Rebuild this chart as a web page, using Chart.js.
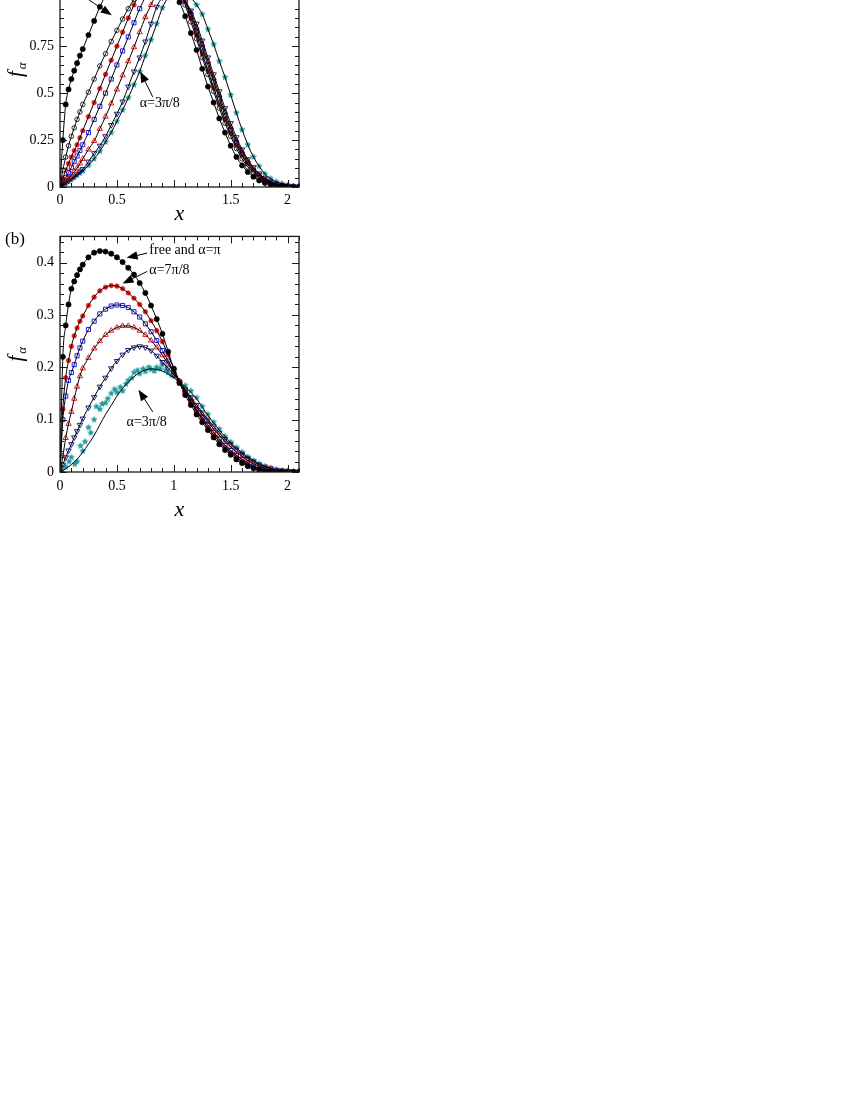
<!DOCTYPE html>
<html>
<head>
<meta charset="utf-8">
<script src="https://cdn.jsdelivr.net/npm/chart.js@4.4.1/dist/chart.umd.min.js"></script>
<style>
html,body{margin:0;padding:0;background:#fff;width:850px;height:1100px;overflow:hidden;position:relative;}
#wa{position:absolute;left:0;top:-62px;width:310px;height:285px;}
#wb{position:absolute;left:0;top:222px;width:310px;height:300px;}
canvas{display:block;}
</style>
</head>
<body>
<div id="wa"><canvas id="ca" width="310" height="285"></canvas></div>
<div id="wb"><canvas id="cb" width="310" height="300"></canvas></div>
<script>
// ---------------- data ----------------
const xGrid = [0,0.025,0.05,0.075,0.1,0.125,0.15,0.175,0.2,
  0.25,0.3,0.35,0.4,0.45,0.5,0.55,0.6,0.65,0.7,0.75,0.8,0.85,0.9,0.95,1,
  1.05,1.1,1.15,1.2,1.25,1.3,1.35,1.4,1.45,1.5,1.55,1.6,1.65,1.7,1.75,1.8,1.85,1.9,1.95,2,2.05,2.1];

// panel (a)
const aFree = [0,0.25,0.44,0.52,0.575,0.62,0.66,0.7,0.735,
  0.81,0.885,0.96,1.02,1.07,1.11,1.14,1.16,1.17,1.17,1.16,1.15,1.13,1.1,1.075,1.04,
  0.985,0.91,0.82,0.73,0.63,0.535,0.45,0.365,0.29,0.22,0.16,0.115,0.08,0.055,0.035,0.022,0.012,0.006,0.003,0.001,0,0];
const aPi = [0,0.09,0.16,0.22,0.27,0.315,0.36,0.4,0.44,
  0.505,0.575,0.645,0.71,0.775,0.835,0.895,0.95,1.0,1.04,1.08,1.11,1.13,1.14,1.13,1.1,
  1.05,0.97,0.88,0.79,0.69,0.6,0.51,0.42,0.34,0.27,0.205,0.15,0.107,0.075,0.05,0.032,0.019,0.011,0.006,0.003,0.001,0];
const a78 = [0,0.045,0.09,0.125,0.16,0.193,0.225,0.262,0.3,
  0.375,0.45,0.525,0.6,0.675,0.75,0.825,0.9,0.97,1.03,1.07,1.1,1.12,1.12,1.11,1.08,
  1.04,0.98,0.9,0.81,0.71,0.62,0.53,0.44,0.36,0.285,0.22,0.165,0.118,0.082,0.055,0.035,0.021,0.012,0.007,0.004,0.002,0.001];
const a34 = [0,0.025,0.05,0.077,0.105,0.135,0.165,0.195,0.225,
  0.29,0.36,0.43,0.5,0.575,0.65,0.725,0.8,0.875,0.95,1.01,1.05,1.08,1.09,1.09,1.07,
  1.04,0.99,0.92,0.83,0.74,0.65,0.56,0.47,0.38,0.305,0.235,0.175,0.127,0.088,0.06,0.038,0.023,0.013,0.008,0.004,0.002,0.001];
const a58 = [0,0.015,0.03,0.047,0.065,0.083,0.1,0.125,0.15,
  0.2,0.245,0.31,0.375,0.445,0.52,0.595,0.67,0.745,0.825,0.905,0.97,1.03,1.06,1.07,1.06,
  1.03,0.99,0.93,0.85,0.76,0.67,0.58,0.49,0.4,0.32,0.25,0.19,0.14,0.098,0.066,0.043,0.027,0.016,0.009,0.005,0.003,0.001];
const a12 = [0,0.011,0.022,0.033,0.045,0.056,0.068,0.081,0.095,
  0.135,0.18,0.22,0.27,0.33,0.39,0.455,0.535,0.615,0.69,0.775,0.87,0.96,1.01,1.03,1.035,
  1.02,0.99,0.94,0.87,0.78,0.69,0.6,0.51,0.42,0.34,0.265,0.2,0.148,0.105,0.072,0.047,0.03,0.018,0.01,0.006,0.003,0.001];
const a38 = [0,0.008,0.018,0.03,0.04,0.052,0.063,0.074,0.085,
  0.115,0.15,0.19,0.24,0.29,0.35,0.41,0.475,0.545,0.615,0.7,0.785,0.87,0.955,1.01,1.04,
  1.05,1.04,1.01,0.97,0.92,0.84,0.76,0.67,0.585,0.49,0.395,0.305,0.225,0.16,0.11,0.07,0.045,0.028,0.018,0.01,0.005,0.002];

// panel (b)
const bFree = [0,0.22,0.28,0.32,0.35,0.364,0.376,0.387,0.396,
  0.41,0.419,0.422,0.421,0.417,0.41,0.401,0.39,0.377,0.361,0.342,0.318,0.292,0.264,0.23,0.197,
  0.17,0.147,0.128,0.11,0.095,0.08,0.066,0.053,0.042,0.033,0.024,0.017,0.011,0.007,0.004,0.002,0.001,0,0,0,0,0];
const b78 = [0,0.12,0.18,0.213,0.24,0.26,0.275,0.288,0.298,
  0.318,0.334,0.346,0.353,0.356,0.355,0.35,0.342,0.332,0.32,0.306,0.289,0.27,0.249,0.224,0.198,
  0.174,0.152,0.133,0.116,0.1,0.085,0.071,0.058,0.047,0.037,0.028,0.02,0.014,0.009,0.006,0.003,0.002,0.001,0,0,0,0];
const b34 = [0,0.1,0.145,0.175,0.19,0.205,0.222,0.237,0.25,
  0.272,0.288,0.302,0.311,0.317,0.319,0.318,0.314,0.306,0.296,0.283,0.268,0.251,0.232,0.212,0.192,
  0.172,0.153,0.135,0.119,0.104,0.09,0.076,0.063,0.051,0.041,0.032,0.024,0.017,0.011,0.007,0.004,0.002,0.001,0.001,0,0,0];
const b58 = [0,0.03,0.065,0.092,0.115,0.14,0.163,0.183,0.198,
  0.218,0.236,0.25,0.262,0.27,0.276,0.279,0.279,0.276,0.27,0.262,0.251,0.238,0.223,0.207,0.19,
  0.173,0.156,0.14,0.124,0.11,0.096,0.082,0.07,0.058,0.048,0.038,0.03,0.022,0.016,0.011,0.007,0.005,0.003,0.002,0.001,0,0];
const b12 = [0,0.014,0.028,0.041,0.053,0.066,0.078,0.09,0.102,
  0.123,0.143,0.163,0.18,0.198,0.212,0.224,0.233,0.238,0.24,0.238,0.232,0.222,0.21,0.198,0.186,
  0.172,0.158,0.143,0.128,0.114,0.1,0.087,0.075,0.063,0.053,0.043,0.034,0.026,0.02,0.014,0.01,0.007,0.004,0.003,0.002,0.001,0];
const b38 = [0,0.003,0.006,0.01,0.014,0.019,0.024,0.031,0.038,
  0.053,0.07,0.09,0.11,0.127,0.145,0.16,0.172,0.182,0.19,0.195,0.197,0.196,0.193,0.187,0.18,
  0.172,0.163,0.152,0.14,0.124,0.108,0.094,0.08,0.068,0.056,0.046,0.037,0.029,0.022,0.016,0.011,0.007,0.004,0.003,0.002,0.001,0.001];
// simulation points of alpha=3pi/8 in panel (b) (scattered)
const tealBx = [0.02,0.05,0.08,0.1,0.13,0.15,0.18,0.2,0.22,0.25,0.27,0.3,0.32,0.35,0.37,0.4,0.42,0.45,0.48,0.5,
  0.53,0.55,0.58,0.6,0.63,0.65,0.68,0.7,0.73,0.75,0.78,0.8,0.83,0.85,0.88,0.9,0.93,0.95,0.98,1.0,
  1.05,1.1,1.15,1.2,1.25,1.3,1.35,1.4,1.45,1.5,1.55,1.6,1.65,1.7,1.75,1.8,1.85,1.9,1.95,2.0,2.05,2.1];
const tealBy = [0.005,0.01,0.02,0.028,0.015,0.02,0.05,0.04,0.058,0.085,0.075,0.1,0.125,0.12,0.13,0.132,0.14,0.15,0.158,0.152,
  0.162,0.155,0.168,0.175,0.18,0.19,0.194,0.188,0.197,0.192,0.2,0.196,0.193,0.2,0.197,0.205,0.195,0.19,0.185,0.183,
  0.17,0.165,0.155,0.142,0.125,0.11,0.095,0.082,0.068,0.057,0.047,0.038,0.029,0.022,0.016,0.011,0.008,0.005,0.003,0.002,0.001,0.001];

const xTicks = [0,0.5,1,1.5,2];
const yTicksA = [0,0.25,0.5,0.75,1,1.25];
const yTicksB = [0,0.1,0.2,0.3,0.4];
const xTickLabelsA = ['0','0.5','','1.5','2'];
const xTickLabelsB = ['0','0.5','1','1.5','2'];
const yTickLabelsA = ['0','0.25','0.5','0.75','',''];
const yTickLabelsB = ['0','0.1','0.2','0.3','0.4'];

// ---------------- styling ----------------
const SERIF = '"Liberation Serif", "Times New Roman", serif';
const RED = '#ec1a1a', BLUE = '#1c1ced', NAVY = '#1f1f8a', TEAL = '#219a9a';

function makeStar(color, r){
  const s = Math.ceil(r*2+2), c = document.createElement('canvas');
  c.width = s; c.height = s;
  const g = c.getContext('2d');
  g.fillStyle = color; g.beginPath();
  for(let k=0;k<10;k++){
    const ang = -Math.PI/2 + k*Math.PI/5, rr = (k%2) ? r*0.45 : r;
    g.lineTo(s/2 + rr*Math.cos(ang), s/2 + rr*Math.sin(ang));
  }
  g.closePath(); g.fill();
  return c;
}
const star = makeStar(TEAL, 3.8);

const mk = {
  free:{pointStyle:'circle',pointRadius:2.6,pointBackgroundColor:'#000',pointBorderColor:'#000',pointBorderWidth:0.6},
  pi:{pointStyle:'circle',pointRadius:2.3,pointBackgroundColor:'#fff',pointBorderColor:'#000',pointBorderWidth:0.8},
  r78:{pointStyle:'circle',pointRadius:2.3,pointBackgroundColor:RED,pointBorderColor:RED,pointBorderWidth:0.6},
  b34:{pointStyle:'rect',pointRadius:2.9,pointBackgroundColor:'rgba(0,0,0,0)',pointBorderColor:BLUE,pointBorderWidth:1},
  r58:{pointStyle:'triangle',pointRadius:3.1,pointBackgroundColor:'rgba(0,0,0,0)',pointBorderColor:RED,pointBorderWidth:1},
  n12:{pointStyle:'triangle',pointRotation:180,pointRadius:3.1,pointBackgroundColor:'rgba(0,0,0,0)',pointBorderColor:NAVY,pointBorderWidth:1},
  t38:{pointStyle:star,pointRadius:4}
};

function pts(ys, xs){ const X = xs || xGrid; return ys.map((v,i)=>({x:X[i], y:v})); }
function markers(label, ys, st, xs, order){
  return Object.assign({type:'line', label, data:pts(ys,xs), showLine:false, order:order, clip:0,
    borderColor:'rgba(0,0,0,0)'}, st);
}
function theory(ys){
  return {type:'line', label:'theory', data:pts(ys), showLine:true, pointRadius:0, borderColor:'#000',
    borderWidth:1, cubicInterpolationMode:'monotone', fill:false, order:0, clip:0};
}

// ---------------- plugins ----------------
function isMajor(v, step){ const q = v/step; return Math.abs(q - Math.round(q)) < 1e-6; }
const frameTicks = {
  id:'frameTicks',
  afterDraw(chart, args, o){
    const {ctx, chartArea:a} = chart, x = chart.scales.x, y = chart.scales.y;
    ctx.save();
    ctx.strokeStyle = '#1a1a1a'; ctx.lineWidth = 1;
    ctx.beginPath();
    for(let i=0;;i++){
      const v = i*o.xMinor; if(v > x.max + 1e-9) break;
      const p = Math.round(x.getPixelForValue(v)) + 0.5, L = isMajor(v,o.xMajor) ? o.major : o.minor;
      ctx.moveTo(p, a.bottom); ctx.lineTo(p, a.bottom - L);
      ctx.moveTo(p, a.top); ctx.lineTo(p, a.top + L);
    }
    for(let i=0;;i++){
      const v = i*o.yMinor; if(v > y.max + 1e-9) break;
      const p = Math.round(y.getPixelForValue(v)) + 0.5, L = isMajor(v,o.yMajor) ? o.major : o.minor;
      ctx.moveTo(a.left, p); ctx.lineTo(a.left + L, p);
      ctx.moveTo(a.right, p); ctx.lineTo(a.right - L, p);
    }
    ctx.stroke();
    ctx.lineWidth = 1.3;
    ctx.strokeRect(a.left, a.top, a.right - a.left, a.bottom - a.top);
    ctx.restore();
  }
};

function drawArrow(ctx, x1, y1, x2, y2){
  const ang = Math.atan2(y2-y1, x2-x1), L = 11, W = 4.2;
  ctx.beginPath(); ctx.moveTo(x1,y1);
  ctx.lineTo(x2 - Math.cos(ang)*L*0.8, y2 - Math.sin(ang)*L*0.8); ctx.stroke();
  ctx.beginPath(); ctx.moveTo(x2,y2);
  ctx.lineTo(x2 - Math.cos(ang)*L - Math.sin(ang)*W, y2 - Math.sin(ang)*L + Math.cos(ang)*W);
  ctx.lineTo(x2 - Math.cos(ang)*L + Math.sin(ang)*W, y2 - Math.sin(ang)*L - Math.cos(ang)*W);
  ctx.closePath(); ctx.fill();
}

const deco = {
  id:'deco',
  afterDraw(chart, args, o){
    const {ctx, chartArea:a} = chart, x = chart.scales.x, y = chart.scales.y;
    ctx.save();
    ctx.fillStyle = '#000'; ctx.strokeStyle = '#000'; ctx.lineWidth = 1;
    // x title
    ctx.font = 'italic 22px ' + SERIF; ctx.textAlign = 'center'; ctx.textBaseline = 'alphabetic';
    ctx.fillText('x', (a.left + a.right)/2, a.bottom + o.xTitleDy);
    // y title f_alpha
    ctx.save();
    ctx.translate(a.left - 38, (a.top + a.bottom)/2);
    ctx.rotate(-Math.PI/2);
    ctx.textAlign = 'left';
    ctx.font = 'italic 21px ' + SERIF; const wf = ctx.measureText('f').width;
    ctx.font = 'italic 13px ' + SERIF; const wa = ctx.measureText('α').width;
    const x0 = -(wf + wa + 2)/2;
    ctx.font = 'italic 21px ' + SERIF; ctx.fillText('f', x0, 0);
    ctx.font = 'italic 13px ' + SERIF; ctx.fillText('α', x0 + wf + 2, 4);
    ctx.restore();
    // panel label
    ctx.font = '17px ' + SERIF; ctx.textAlign = 'center'; ctx.textBaseline = 'middle';
    ctx.fillText(o.panel, a.left - 45, a.top + 3);
    // notes
    ctx.font = '14px ' + SERIF; ctx.textAlign = 'left'; ctx.textBaseline = 'middle';
    for(const n of o.notes) ctx.fillText(n.text, x.getPixelForValue(n.x), y.getPixelForValue(n.y));
    for(const r of o.arrows) drawArrow(ctx, x.getPixelForValue(r.x1), y.getPixelForValue(r.y1),
                                            x.getPixelForValue(r.x2), y.getPixelForValue(r.y2));
    ctx.restore();
  }
};

function buildChart(id, datasets, yMax, yTicks, yLabels, xLabels, fitH, tickPadX, plugOpts, frameOpts){
  return new Chart(document.getElementById(id), {
    type:'line',
    data:{datasets},
    options:{
      responsive:false, animation:false, devicePixelRatio:1, events:[],
      layout:{padding:{top:10,right:11,bottom:0,left:0}},
      plugins:{legend:{display:false}, tooltip:{enabled:false}, deco:plugOpts, frameTicks:frameOpts},
      scales:{
        x:{type:'linear', min:0, max:2.1,
           afterFit(s){ s.height = fitH; },
           afterBuildTicks(s){ s.ticks = xTicks.map(v=>({value:v})); },
           ticks:{autoSkip:false, maxRotation:0, padding:tickPadX, color:'#000',
                  font:{family:SERIF, size:14},
                  callback:(v)=>{ const i = xTicks.indexOf(v); return i<0 ? '' : xLabels[i]; }},
           grid:{display:false, drawTicks:false}, border:{display:false}},
        y:{type:'linear', min:0, max:yMax,
           afterFit(s){ s.width = 60; },
           afterBuildTicks(s){ s.ticks = yTicks.map(v=>({value:v})); },
           ticks:{autoSkip:false, padding:6, color:'#000', font:{family:SERIF, size:14},
                  callback:(v)=>{ const i = yTicks.indexOf(v); return i<0 ? '' : yLabels[i]; }},
           grid:{display:false, drawTicks:false}, border:{display:false}}
      }
    },
    plugins:[frameTicks, deco]
  });
}

// panel (a)
buildChart('ca', [
  theory(aFree), theory(aPi), theory(a78), theory(a34), theory(a58), theory(a12), theory(a38),
  markers('free', aFree, mk.free, null, 1),
  markers('α=π', aPi, mk.pi, null, 1),
  markers('α=7π/8', a78, mk.r78, null, 1),
  markers('α=3π/4', a34, mk.b34, null, 1),
  markers('α=5π/8', a58, mk.r58, null, 1),
  markers('α=π/2', a12, mk.n12, null, 1),
  markers('α=3π/8', a38, mk.t38, null, 1)
], 1.25, yTicksA, yTickLabelsA, xTickLabelsA, 36, 5,
{ xTitleDy:32.5, panel:'(a)',
  notes:[{x:0.70, y:0.447, text:'α=3π/8'}, {x:0.02, y:1.12, text:'α=π'}],
  arrows:[{x1:0.815, y1:0.48, x2:0.705, y2:0.615}, {x1:0.1, y1:1.06, x2:0.455, y2:0.915}] },
{ xMinor:0.1, xMajor:0.5, yMinor:0.05, yMajor:0.25, major:7, minor:4 });

// panel (b)
buildChart('cb', [
  theory(bFree), theory(b78), theory(b34), theory(b58), theory(b12), theory(b38),
  markers('free and α=π', bFree, mk.free, null, 1),
  markers('α=7π/8', b78, mk.r78, null, 1),
  markers('α=3π/4', b34, mk.b34, null, 1),
  markers('α=5π/8', b58, mk.r58, null, 1),
  markers('α=π/2', b12, mk.n12, null, 1),
  markers('α=3π/8', tealBy, mk.t38, tealBx, 1)
], 0.45, yTicksB, yTickLabelsB, xTickLabelsB, 50, 6,
{ xTitleDy:44, panel:'(b)',
  notes:[{x:0.785, y:0.423, text:'free and α=π'}, {x:0.785, y:0.385, text:'α=7π/8'}, {x:0.585, y:0.095, text:'α=3π/8'}],
  arrows:[{x1:0.765, y1:0.418, x2:0.585, y2:0.409}, {x1:0.765, y1:0.383, x2:0.55, y2:0.36}, {x1:0.815, y1:0.115, x2:0.69, y2:0.157}] },
{ xMinor:0.1, xMajor:0.5, yMinor:0.02, yMajor:0.1, major:7, minor:4 });
</script>
</body>
</html>
